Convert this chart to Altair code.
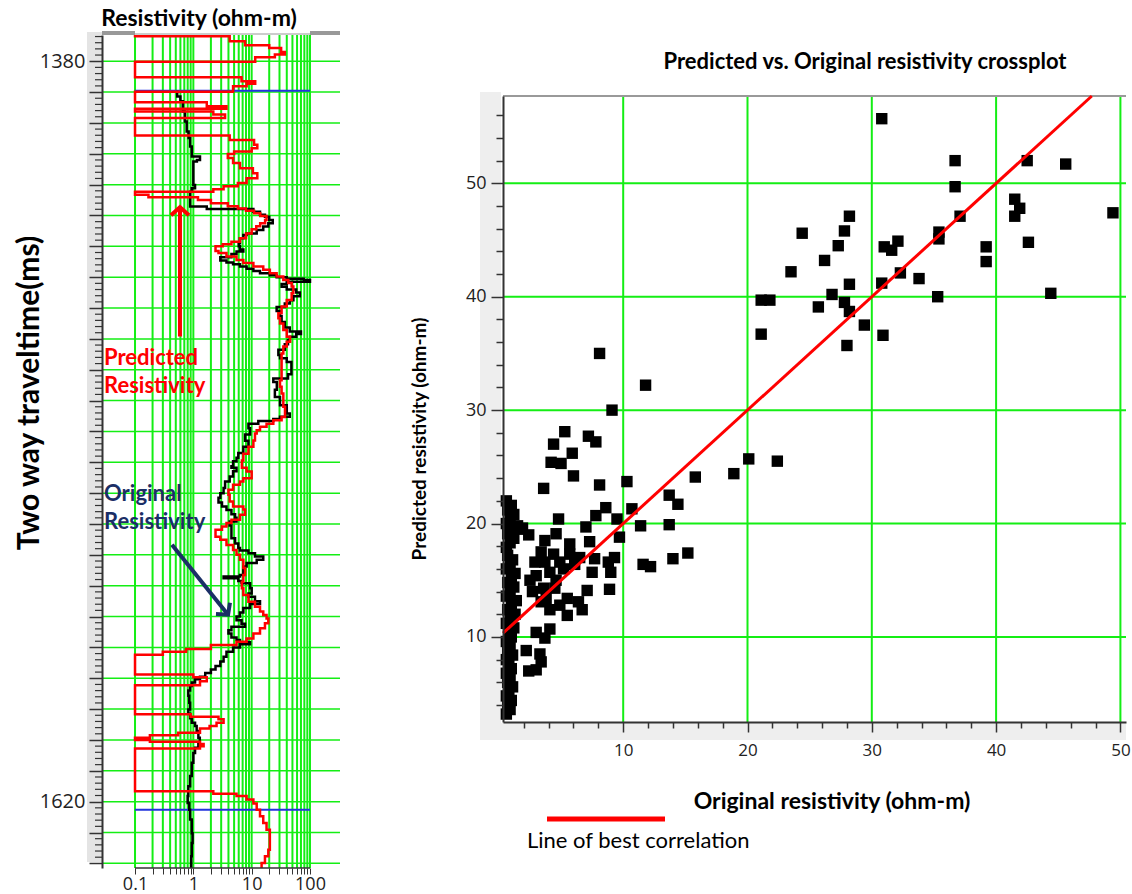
import altair as alt
import pandas as pd

# ---------------- well log: two-way time (ms) vs resistivity (ohm-m) ----------------
# blocky samples: each value holds from its time down to the next time
pred_ms = [1371.5, 1371.9, 1373.5, 1374.8, 1375.7, 1377.0, 1377.8, 1378.7, 1380.2, 1385.2, 1386.5,
           1387.3, 1388.1, 1389.9, 1393.3, 1394.6, 1395.4, 1396.3, 1397.3, 1398.4, 1404.1,
           1405.5, 1407.1, 1408.2, 1409.3, 1410.1, 1411.4, 1413.0, 1414.7, 1416.3, 1417.9,
           1419.5, 1420.5, 1421.5, 1422.3, 1423.3, 1424.1, 1425.0, 1426.0, 1427.0, 1427.7,
           1428.5, 1429.3, 1430.2, 1431.5, 1432.5, 1433.5, 1434.5, 1435.8, 1437.4, 1438.5,
           1439.3, 1440.0, 1441.5, 1442.2, 1443.3, 1444.4, 1445.4, 1446.5, 1447.6, 1448.7,
           1449.8, 1450.9, 1451.9, 1453.0, 1455.2, 1457.4, 1459.5, 1461.7, 1463.3, 1465.0,
           1467.1, 1469.3, 1470.9, 1472.5, 1474.7, 1476.9, 1479.0, 1481.2, 1483.4, 1485.5,
           1487.7, 1489.9, 1492.0, 1494.2, 1495.3, 1496.4, 1497.5, 1498.5, 1499.6, 1500.7,
           1502.9, 1505.0, 1507.2, 1509.4, 1511.8, 1513.0, 1515.2, 1516.2, 1517.3,
           1518.9, 1520.5, 1522.7, 1524.3, 1525.3, 1527.0, 1528.6, 1529.7, 1530.8, 1531.9,
           1534.1, 1535.1, 1536.8, 1538.4, 1540.0, 1541.6, 1544.3, 1546.5, 1548.7, 1550.8,
           1553.0, 1555.2, 1556.8, 1558.4, 1559.5, 1560.6, 1562.2, 1563.8, 1565.5, 1567.1,
           1568.2, 1569.2, 1570.5, 1571.4, 1572.4, 1578.8, 1579.7, 1581.0, 1582.3, 1591.7,
           1592.5, 1593.3, 1594.4, 1595.5, 1596.3, 1597.7, 1598.5, 1599.3, 1600.0, 1600.6,
           1601.3, 1602.0, 1602.8, 1616.6, 1617.4, 1618.2, 1619.3, 1620.6, 1622.6, 1624.7,
           1626.9, 1629.1, 1633.4, 1635.6, 1637.7, 1639.9]
pred_res = [0.1, 4.2, 7.7, 20, 32, 37, 25, 11.5, 0.1, 6.7, 11.5,
            8.2, 4.8, 0.1, 1.7, 3.7, 0.1, 2.2, 3.5, 0.1, 4.2,
            11, 12.5, 10, 5, 3.9, 4.8, 6.3, 10.5, 12.5, 8.2,
            5.8, 3.3, 2.2, 0.1, 0.17, 1.2, 2.0, 3.9, 5.8, 8,
            11, 14, 18, 17, 14, 12, 10, 8, 6.3, 4.5,
            3.2, 2.4, 2.7, 3.7, 5.5, 7.2, 10.7, 15.8, 20.5, 26.8,
            34.9, 42.5, 48.5, 51.8, 48.5, 40, 32.6, 28.7, 30.6, 34.9,
            40, 45.6, 40, 34.9, 32.6, 32.6, 32.6, 32.6, 30.6, 32.6,
            34.9, 34.9, 37.3, 37.3, 32.6, 23.5, 18, 13.9, 12.2, 11.4,
            10.7, 8.8, 7.2, 6.8, 8.2, 10, 7.2, 6.3, 4.8,
            4.0, 4.2, 4.8, 7.2, 7.7, 6.3, 4.5, 3.7, 3.1, 2.4,
            2.9, 3.7, 4.8, 5.5, 6.3, 7.2, 7.7, 7.2, 6.8, 7.2,
            8.8, 11.4, 13.9, 15.8, 18, 19.3, 16.9, 13.9, 10.7, 8.2,
            5.5, 2.0, 0.75, 0.3, 0.1, 1.0, 1.7, 1.3, 0.1, 0.9,
            2.7, 3.3, 2.5, 1.9, 1.3, 0.55, 0.18, 0.1, 0.18, 1.3,
            1.5, 1.3, 0.1, 2.2, 5.5, 8.2, 10.7, 12.2, 13.9, 15.8,
            18, 20.5, 20.5, 19.3, 16.9, 14.8]

orig_ms = [1389.6, 1391.4, 1393.0, 1396.3, 1399.5, 1402.8, 1404.9, 1407.6, 1410.9, 1412.0,
           1412.5, 1420.1, 1421.2, 1422.3, 1427.1, 1427.9, 1428.8, 1429.8, 1430.4, 1431.5,
           1432.5, 1433.6, 1434.7, 1435.8, 1436.3, 1437.4, 1439.0, 1440.0, 1441.0, 1441.7,
           1442.5, 1443.5, 1444.6, 1445.2, 1445.8, 1446.5, 1447.3, 1448.0, 1448.7, 1449.4,
           1450.0, 1450.5, 1450.9, 1451.5, 1452.2, 1453.1, 1454.0, 1455.0, 1456.2, 1457.5,
           1458.5, 1459.7, 1461.0, 1462.7, 1464.5, 1466.3, 1467.6, 1468.4, 1469.3, 1470.4,
           1471.7, 1473.5, 1475.2, 1476.3, 1477.5, 1481.5, 1482.8, 1484.0, 1486.5, 1488.8,
           1491.5, 1494.2, 1495.2, 1496.0, 1496.6, 1497.5, 1499.0, 1501.0, 1503.0, 1505.0,
           1507.0, 1508.5, 1509.7, 1511.3, 1511.8, 1512.9, 1514.6, 1516.2, 1518.3, 1520.0,
           1521.5, 1523.0, 1524.3, 1525.5, 1526.8, 1528.0, 1529.2, 1530.5, 1533.0, 1534.6,
           1536.3, 1537.8, 1538.6, 1539.5, 1540.5, 1541.6, 1542.6, 1543.8, 1546.5, 1547.0,
           1547.6, 1548.5, 1549.2, 1550.8, 1552.5, 1553.6, 1555.0, 1555.9, 1557.2, 1558.7,
           1560.0, 1561.2, 1562.3, 1563.3, 1564.4, 1565.5, 1566.8, 1567.6, 1568.3, 1569.0,
           1570.0, 1571.4, 1573.0, 1574.6, 1576.0, 1577.2, 1578.3, 1579.5, 1580.3, 1581.4,
           1582.5, 1584.0, 1585.7, 1587.9, 1590.1, 1591.5, 1593.0, 1594.4, 1595.5, 1597.1,
           1599.3, 1600.9, 1602.5, 1604.2, 1607.4, 1611.7, 1615.0, 1618.2, 1620.4, 1622.6,
           1625.8, 1630.2, 1633.4, 1637.7]
orig_res = [0.53, 0.6, 0.66, 0.72, 0.77, 0.83, 0.88, 0.94, 1.3, 1.15,
            1.0, 1.07, 0.94, 0.88, 1.7, 10.7, 13.9, 16.9, 20, 23,
            19.3, 15.8, 12.2, 8.2, 7.2, 6.3, 6.0, 6.3, 7.2, 5.5,
            4.5, 2.9, 3.7, 4.8, 6.3, 8.2, 10.7, 13.9, 20.5, 26.8,
            40, 78, 100, 40, 32.6, 40, 58, 67, 52, 45,
            37, 26.8, 30.6, 32.6, 37, 45, 70, 58, 45, 42,
            37, 28.7, 30.6, 40, 48, 42, 23.5, 27, 25, 30.6,
            40, 45, 30.6, 23.5, 13, 8.8, 9.4, 7.7, 8.8, 7.2,
            5.9, 5.5, 4.8, 4.5, 5.5, 4.8, 4.2, 3.5, 3.3, 2.9,
            2.7, 3.1, 3.7, 4.5, 5.2, 5.5, 4.2, 4.5, 4.5, 5.2,
            5.9, 6.3, 8.8, 11.4, 15.8, 12.2, 8.2, 7.2, 6.3, 3.3,
            5.9, 6.7, 9.4, 10, 8.8, 11.4, 13.9, 9.4, 7.2, 6.3,
            5.5, 6.7, 7.7, 4.5, 4.0, 4.5, 5.5, 6.3, 9.4, 6.3,
            4.8, 3.7, 3.3, 2.9, 2.4, 2.0, 1.6, 1.3, 1.07, 0.94,
            0.88, 0.82, 0.85, 0.88, 0.82, 0.88, 0.94, 1.07, 1.14, 1.22,
            1.29, 1.22, 1.07, 1.0, 0.94, 0.88, 0.82, 0.8, 0.85, 0.88,
            0.94, 0.97, 0.94, 0.92]
log_end_ms = 1641.5
window_ms = [1389.6, 1622.6]          # analysis window (blue lines)
log_tick_labels = [0.1, 1, 10, 100]
log_grid_values = [0.1, 0.2, 0.3, 0.4, 0.5, 0.6, 0.7, 0.8, 0.9,
                   1, 2, 3, 4, 5, 6, 7, 8, 9,
                   10, 20, 30, 40, 50, 60, 70, 80, 90, 100]
time_grid = list(range(1380, 1641, 10))
time_labels = [1380, 1620]

# ---------------- crossplot ----------------
cross_orig = [30.8, 36.7, 42.5, 45.6, 36.7, 41.5, 41.9, 41.5, 49.4, 37.1,
              28.2, 24.4, 27.8, 35.4, 35.4, 27.3, 32.1, 31.0, 31.6, 39.2,
              39.2, 42.6, 26.2, 23.5, 28.2, 30.8, 32.3, 33.8, 26.8, 25.7,
              27.8, 28.2, 35.3, 44.4, 29.4, 30.9, 28.0, 21.1, 21.8, 21.1,
              8.1,
              11.8, 9.1, 5.3, 4.4, 7.2, 7.8, 5.9, 4.2, 5.0, 6.0,
              3.6, 8.1, 10.3, 15.8, 18.9, 20.1, 22.4, 13.7, 14.4, 8.6,
              10.7, 7.8, 4.8, 9.5, 11.4, 13.7, 9.7, 2.4, 1.6, 4.6,
              7.0, 7.3, 3.7, 5.7, 3.4, 4.4, 5.7, 6.5, 15.2, 9.3,
              8.8, 2.9, 3.7, 4.9, 7.7, 11.6, 12.2, 14.0, 7.5, 9.0,
              6.1, 2.5, 3.0, 4.1, 5.2, 4.6, 2.7, 3.6, 4.5, 5.5,
              3.8, 6.4, 7.1, 8.9, 4.1, 4.9, 5.5, 6.7, 3.4, 3.0,
              4.1, 3.7, 2.2, 3.3, 3.4, 3.0, 2.4,
              0.6, 0.9, 0.7, 1.0, 0.6, 0.8, 1.1, 0.7, 0.9, 0.6,
              1.0, 0.8, 0.6, 1.1, 0.7, 0.9, 0.6, 1.0, 0.8, 1.2,
              0.6, 0.9, 1.3, 0.7, 1.0, 1.4, 0.6, 0.9, 1.2, 0.7,
              1.0, 1.3, 0.6, 0.9, 1.1, 0.7, 0.6, 0.9, 1.2, 0.7,
              1.0, 1.5, 1.9, 0.6, 0.9, 1.2, 0.7, 1.0, 0.6]
cross_pred = [55.7, 52.0, 52.0, 51.7, 49.7, 48.6, 47.8, 47.1, 47.4, 47.1,
              47.1, 45.6, 45.8, 45.7, 45.1, 44.5, 44.9, 44.4, 44.1, 44.4,
              43.1, 44.8, 43.2, 42.2, 41.1, 41.2, 42.1, 41.6, 40.2, 39.1,
              39.5, 38.7, 40.0, 40.3, 37.5, 36.6, 35.7, 39.7, 39.7, 36.7,
              35.0,
              32.2, 30.0, 28.1, 27.0, 27.7, 27.2, 26.2, 25.4, 25.3, 24.2,
              23.1, 23.4, 23.7, 24.1, 24.4, 25.7, 25.5, 22.5, 21.7, 21.4,
              21.3, 20.7, 20.4, 20.4, 19.8, 19.9, 18.8, 19.0, 19.5, 19.1,
              19.7, 18.4, 18.5, 18.2, 17.5, 17.3, 17.3, 17.0, 17.4, 17.0,
              16.6, 16.6, 16.6, 16.6, 16.9, 16.4, 16.2, 16.9, 15.7, 15.7,
              16.4, 15.0, 15.4, 15.7, 16.0, 15.0, 14.0, 14.3, 14.3, 13.4,
              13.4, 13.1, 14.1, 14.2, 12.4, 12.8, 11.9, 12.4, 13.1, 10.4,
              10.7, 9.9, 8.8, 8.5, 7.8, 7.1, 7.0,
              3.2, 3.6, 4.0, 4.4, 4.8, 5.2, 5.6, 6.0, 6.4, 6.8,
              7.2, 7.6, 8.0, 8.4, 8.8, 9.2, 9.6, 10.0, 10.4, 10.8,
              11.2, 11.6, 12.0, 12.4, 12.8, 13.2, 13.6, 14.0, 14.4, 14.8,
              15.2, 15.6, 16.0, 16.4, 16.8, 17.2, 17.9, 18.3, 18.7, 19.1,
              19.5, 19.8, 19.6, 20.0, 20.4, 20.8, 21.2, 21.6, 22.0]
fit_slope = 1.0
fit_intercept = 10.0
fit_orig_range = [0.33, 47.7]
cross_ticks = list(range(2, 51, 2))
cross_yticks = list(range(4, 57, 2))
cross_grid = [10, 20, 30, 40, 50]

GREEN = "#14ee14"
TXT_FONT = "Lato"
NUM_FONT = "Open Sans"
NAVY = "#1b2f66"

W1, H1 = 238, 833     # log panel
W2, H2 = 623, 687     # crossplot panel (data area starts 61 px below its top)
C_TOP = 61


def text_mark(text, x, y, size, color="#000", weight="bold", angle=0, align="center",
              font=TXT_FONT):
    return alt.Chart(pd.DataFrame({"t": [text]})).mark_text(
        font=font, fontSize=size, fontWeight=weight, color=color, angle=angle,
        align=align, baseline="middle"
    ).encode(text="t:N", x=alt.value(x), y=alt.value(y))


def box(x, x2, y, y2, color):
    return alt.Chart(pd.DataFrame({"k": [0]})).mark_rect(color=color).encode(
        x=alt.value(x), x2=alt.value(x2), y=alt.value(y), y2=alt.value(y2))


# ---------------- log panel ----------------
def step_table(ms, res, end_ms):
    rows = [{"ms": m, "res": r} for m, r in zip(ms, res)]
    rows.append({"ms": end_ms, "res": res[-1]})
    return pd.DataFrame(rows)


label_test = " || ".join(f"datum.value == {v}" for v in log_tick_labels)
x_log_axis = alt.Axis(
    values=log_grid_values, labelExpr=f"({label_test}) ? format(datum.value, '~g') : ''",
    domain=False, tickSize=6, tickColor="#333", tickWidth=1, grid=False,
    labelFont=NUM_FONT, labelFontSize=18, labelColor="#222", labelPadding=1,
    labelFlush=False, labelOverlap=False, title=None, zindex=1)
time_test = " || ".join(f"datum.value == {v}" for v in time_labels)
y_ms_axis = alt.Axis(
    values=time_grid, labelExpr=f"({time_test}) ? datum.label : ''",
    format="d", tickSize=13, tickColor="#333", tickWidth=1.5,
    domainColor="#333", domainWidth=2, grid=False,
    labelFont=NUM_FONT, labelFontSize=20, labelColor="#222", labelPadding=4,
    labelOverlap=False, title=None, zindex=1)

xs_log = alt.Scale(type="log", domain=[0.02716, 327], nice=False)
ys_ms = alt.Scale(domain=[1371.5, 1641.5], reverse=True, nice=False, zero=False)
X_LOG = alt.X("res:Q", scale=xs_log, axis=x_log_axis)
Y_MS = alt.Y("ms:Q", scale=ys_ms, axis=y_ms_axis)

# green grid, drawn under the curves
log_vgrid = alt.Chart(pd.DataFrame({"res": log_grid_values})).mark_rule(
    color=GREEN, strokeWidth=2).encode(x=X_LOG, y=alt.value(0), y2=alt.value(H1))
log_hgrid = alt.Chart(pd.DataFrame({"ms": time_grid})).mark_rule(
    color=GREEN, strokeWidth=1.5).encode(y=Y_MS, x=alt.value(0), x2=alt.value(W1))

pred_tbl = step_table(pred_ms, pred_res, log_end_ms)
orig_tbl = step_table(orig_ms, orig_res, log_end_ms)

orig_line = alt.Chart(orig_tbl).mark_line(
    interpolate="step-before", color="#000", strokeWidth=2.5).encode(
    x=X_LOG, y=Y_MS, order="ms:Q")
pred_line = alt.Chart(pred_tbl).mark_line(
    interpolate="step-before", color="#ff0000", strokeWidth=2.5).encode(
    x=X_LOG, y=Y_MS, order="ms:Q")

window = alt.Chart(pd.DataFrame({"ms": window_ms, "res": [0.1] * 2, "res2": [100] * 2})
                   ).mark_rule(color="#2233dd", strokeWidth=2).encode(
    x=X_LOG, x2="res2:Q", y=Y_MS)

minor_ms = [m for m in range(1372, 1641, 2) if m % 10]
minor_ticks = alt.Chart(pd.DataFrame({"ms": minor_ms})).mark_rule(
    color="#333", strokeWidth=1.2).encode(y=Y_MS, x=alt.value(-7), x2=alt.value(0))

bottom_line = alt.Chart(pd.DataFrame({"res": [0.1], "res2": [100]})).mark_rule(
    color="#333", strokeWidth=1.5).encode(x=X_LOG, x2="res2:Q", y=alt.value(H1))

# annotation arrows, in data coordinates (res, ms)
red_arrow = pd.DataFrame({"res": [0.59, 0.59], "ms": [1469.2, 1427.3], "k": [0, 1]})
navy_arrow = pd.DataFrame({"res": [0.43, 3.94], "ms": [1536.7, 1559.4], "k": [0, 1]})
chevron = "M -1 0.9 L 0 0 L 1 0.9"

red_shaft = alt.Chart(red_arrow).mark_line(color="#ff0000", strokeWidth=4).encode(
    x=X_LOG, y=Y_MS, order="k:Q")
red_head = alt.Chart(red_arrow.iloc[[1]]).mark_point(
    shape=chevron, filled=False, color="#ff0000", strokeWidth=4, size=324, opacity=1
).encode(x=X_LOG, y=Y_MS)
navy_shaft = alt.Chart(navy_arrow).mark_line(color=NAVY, strokeWidth=4).encode(
    x=X_LOG, y=Y_MS, order="k:Q")
navy_head = alt.Chart(navy_arrow.iloc[[1]]).mark_point(
    shape=chevron, filled=False, color=NAVY, strokeWidth=4, size=324, opacity=1,
    angle=141).encode(x=X_LOG, y=Y_MS)

log_panel = alt.layer(
    box(-15, 0, -3, H1 - 6, "#e4e4e4"),
    log_vgrid,
    log_hgrid,
    box(0, 33, -4, 0, "#999999"),
    box(W1 - 30, W1, -4, 0, "#999999"),
    alt.Chart(pd.DataFrame({"k": [0]})).mark_rule(color="#bbbbbb", strokeWidth=1.5).encode(
        x=alt.value(33), x2=alt.value(W1 - 30), y=alt.value(-1)),
    window,
    orig_line,
    pred_line,
    minor_ticks,
    bottom_line,
    red_shaft, red_head, navy_shaft, navy_head,
    text_mark("Predicted", 2, 323, 22, color="#ff0000", align="left"),
    text_mark("Resistivity", 2, 351, 22, color="#ff0000", align="left"),
    text_mark("Original", 2, 459, 22, color=NAVY, align="left"),
    text_mark("Resistivity", 2, 487, 22, color=NAVY, align="left"),
    text_mark("Resistivity (ohm-m)", 97, -16, 23),
    text_mark("Two way traveltime(ms)", -72, 358, 30, angle=270),
).properties(width=W1, height=H1)

# ---------------- crossplot panel ----------------
major10 = "datum.value % 10 == 0"
x_cross_axis = alt.Axis(
    values=cross_ticks, labelExpr=f"{major10} ? datum.label : ''",
    tickSize={"condition": {"test": major10, "value": 10}, "value": 6},
    tickColor="#333", tickWidth=1.5, domainColor="#333", domainWidth=2, grid=False,
    labelFont=NUM_FONT, labelFontSize=17, labelColor="#222", labelPadding=10,
    labelFlush=False, labelOverlap=False, title=None, zindex=1)
y_cross_axis = alt.Axis(
    values=cross_yticks, labelExpr=f"{major10} ? datum.label : ''",
    tickSize={"condition": {"test": major10, "value": 12}, "value": 7},
    tickColor="#333", tickWidth=1.5, domainColor="#333", domainWidth=2, grid=False,
    labelFont=NUM_FONT, labelFontSize=18, labelColor="#222", labelPadding=5,
    labelOverlap=False, title=None, zindex=1)

xs_lin = alt.Scale(domain=[0.33, 50.45], nice=False, zero=False)
ys_lin = alt.Scale(domain=[2.5, 57.7], range=[H2, C_TOP], nice=False, zero=False)
X_C = alt.X("orig:Q", scale=xs_lin, axis=x_cross_axis)
Y_C = alt.Y("pred:Q", scale=ys_lin, axis=y_cross_axis)

cross_vgrid = alt.Chart(pd.DataFrame({"orig": cross_grid})).mark_rule(
    color=GREEN, strokeWidth=2).encode(x=X_C, y=alt.value(C_TOP), y2=alt.value(H2))
cross_hgrid = alt.Chart(pd.DataFrame({"pred": cross_grid})).mark_rule(
    color=GREEN, strokeWidth=2).encode(y=Y_C, x=alt.value(0), x2=alt.value(W2))

points = alt.Chart(pd.DataFrame({"orig": cross_orig, "pred": cross_pred})).mark_square(
    size=130, color="#000", opacity=1).encode(x=X_C, y=Y_C)

fit_tbl = pd.DataFrame({"orig": fit_orig_range,
                        "pred": [fit_intercept + fit_slope * v for v in fit_orig_range]})
fit_line = alt.Chart(fit_tbl).mark_line(color="#ff0000", strokeWidth=3).encode(x=X_C, y=Y_C)

cross_panel = alt.layer(
    box(-23, -2, C_TOP - 4, H2 + 18, "#eeeeee"),
    box(-23, W2, H2 + 1, H2 + 18, "#eeeeee"),
    cross_vgrid,
    cross_hgrid,
    alt.Chart(pd.DataFrame({"k": [0]})).mark_rule(color="#999999", strokeWidth=2).encode(
        x=alt.value(0), x2=alt.value(W2), y=alt.value(C_TOP)),
    points,
    fit_line,
    text_mark("Predicted vs. Original resistivity crossplot", 362, 27, 22),
    text_mark("Predicted resistivity (ohm-m)", -83, 404, 19, angle=270),
    text_mark("Original resistivity (ohm-m)", 329, 767, 23),
    alt.Chart(pd.DataFrame({"k": [0]})).mark_rule(color="#ff0000", strokeWidth=5).encode(
        x=alt.value(44), x2=alt.value(162), y=alt.value(784)),
    text_mark("Line of best correlation", 24, 806, 22, weight="normal", align="left"),
).properties(width=W2, height=H2)

chart = alt.hconcat(log_panel, cross_panel, spacing=163, bounds="flush").properties(
    padding={"left": 15, "top": 8, "right": 0, "bottom": 1}, background="white"
).configure_view(strokeWidth=0, stroke="transparent")

chart.save("out.html", embed_options={"renderer": "svg", "actions": False})
